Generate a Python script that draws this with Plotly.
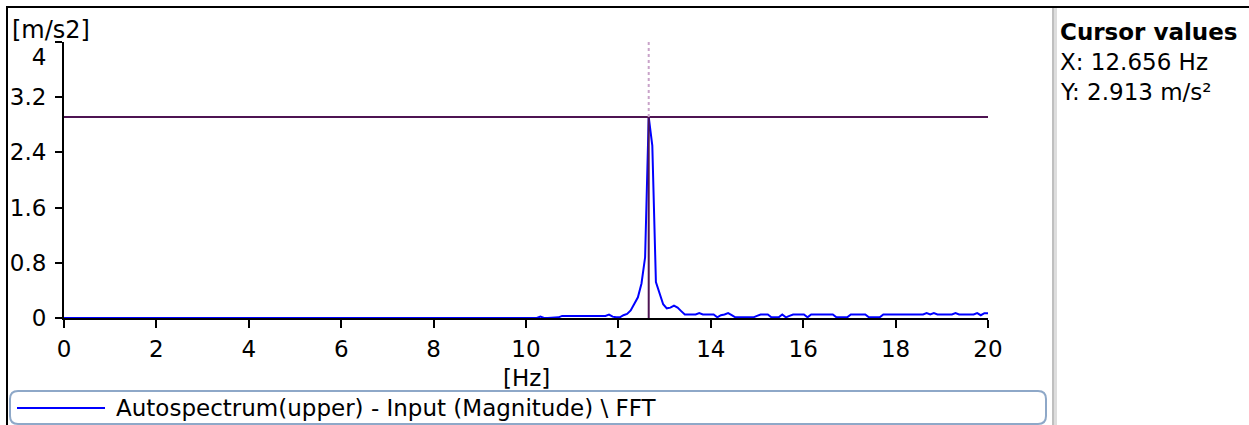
import plotly.graph_objects as go

# ---------------- data ----------------
freq_hz = [
    0.0,
    10.156, 10.234, 10.312, 10.391, 10.469, 10.547, 10.625, 10.703, 10.781, 10.859,
    10.938, 11.016, 11.094, 11.172, 11.25, 11.328, 11.406, 11.484, 11.562, 11.641,
    11.719, 11.797, 11.875, 11.953, 12.031, 12.109, 12.188, 12.266, 12.344, 12.422,
    12.5, 12.578, 12.656, 12.734, 12.812, 12.891, 12.969, 13.047, 13.125, 13.203,
    13.281, 13.359, 13.438, 13.516, 13.594, 13.672, 13.75, 13.828, 13.906, 13.984,
    14.062, 14.141, 14.219, 14.297, 14.375, 14.453, 14.531, 14.609, 14.688, 14.766,
    14.844, 14.922, 15.0, 15.078, 15.156, 15.234, 15.312, 15.391, 15.469, 15.547,
    15.625, 15.703, 15.781, 15.859, 15.938, 16.016, 16.094, 16.172, 16.25, 16.328,
    16.406, 16.484, 16.562, 16.641, 16.719, 16.797, 16.875, 16.953, 17.031, 17.109,
    17.188, 17.266, 17.344, 17.422, 17.5, 17.578, 17.656, 17.734, 17.812, 17.891,
    17.969, 18.047, 18.125, 18.203, 18.281, 18.359, 18.438, 18.516, 18.594, 18.672,
    18.75, 18.828, 18.906, 18.984, 19.062, 19.141, 19.219, 19.297, 19.375, 19.453,
    19.531, 19.609, 19.688, 19.766, 19.844, 19.922, 20.0,
]
magnitude = [
    0.0,
    0.0, 0.0, 0.02, 0.0, 0.0, 0.0, 0.0, 0.01, 0.03, 0.03,
    0.03, 0.03, 0.02, 0.03, 0.03, 0.03, 0.03, 0.03, 0.03, 0.03,
    0.03, 0.05, 0.02, 0.01, 0.01, 0.04, 0.06, 0.11, 0.2, 0.3,
    0.5, 0.88, 2.913, 2.5, 0.52, 0.36, 0.2, 0.14, 0.15, 0.18,
    0.15, 0.1, 0.05, 0.05, 0.05, 0.05, 0.07, 0.05, 0.05, 0.05,
    0.05, 0.01, 0.04, 0.05, 0.07, 0.04, 0.01, 0.01, 0.01, 0.01,
    0.01, 0.01, 0.03, 0.05, 0.05, 0.05, 0.01, 0.01, 0.01, 0.05,
    0.01, 0.03, 0.05, 0.05, 0.05, 0.05, 0.01, 0.05, 0.05, 0.05,
    0.05, 0.05, 0.05, 0.05, 0.01, 0.01, 0.01, 0.01, 0.05, 0.05,
    0.05, 0.05, 0.05, 0.01, 0.01, 0.01, 0.01, 0.05, 0.05, 0.05,
    0.05, 0.05, 0.05, 0.05, 0.05, 0.05, 0.05, 0.05, 0.05, 0.07,
    0.05, 0.07, 0.05, 0.05, 0.05, 0.05, 0.05, 0.07, 0.05, 0.05,
    0.05, 0.05, 0.05, 0.07, 0.04, 0.07, 0.07,
]
cursor_x = 12.656
cursor_y = 2.913
x_tick_vals = [0, 2, 4, 6, 8, 10, 12, 14, 16, 18, 20]
x_tick_text = ["0", "2", "4", "6", "8", "10", "12", "14", "16", "18", "20"]
y_tick_vals = [0, 0.8, 1.6, 2.4, 3.2, 4]
y_tick_text = ["0", "0.8", "1.6", "2.4", "3.2", "<br>4"]
x_range = [0, 20]
y_range = [0, 4]
series_name = "Autospectrum(upper) - Input (Magnitude) \\ FFT"

# ---------------- layout geometry (pixels) ----------------
W, H = 1249, 425
PL, PR, PT, PB = 64, 988, 42, 318
FONT = "DejaVu Sans"
TXT = 23
TICK = 23
CURSOR_COL = "#4e1452"


def px(x):
    return (x - PL) / (PR - PL)


def py(y):
    return (PB - y) / (PB - PT)


fig = go.Figure()
fig.add_trace(go.Scatter(x=freq_hz, y=magnitude, mode="lines",
                         line=dict(color="#0000ff", width=2),
                         name=series_name, showlegend=False, hoverinfo="skip"))
# cursor: horizontal line
fig.add_trace(go.Scatter(x=x_range, y=[cursor_y, cursor_y], mode="lines",
                         line=dict(color=CURSOR_COL, width=2),
                         showlegend=False, hoverinfo="skip"))
# cursor: vertical solid part
fig.add_trace(go.Scatter(x=[cursor_x, cursor_x], y=[0, cursor_y], mode="lines",
                         line=dict(color=CURSOR_COL, width=2),
                         showlegend=False, hoverinfo="skip"))
# cursor: vertical dotted part
fig.add_trace(go.Scatter(x=[cursor_x, cursor_x], y=[cursor_y, y_range[1]], mode="lines",
                         line=dict(color="#c9a3c9", width=2, dash="dot"),
                         showlegend=False, hoverinfo="skip"))

shapes = [
    # outer frame
    dict(type="line", xref="paper", yref="paper", x0=px(6), x1=px(W), y0=py(7), y1=py(7),
         line=dict(color="black", width=2)),
    dict(type="line", xref="paper", yref="paper", x0=px(7), x1=px(7), y0=py(6), y1=py(H),
         line=dict(color="black", width=2)),
    # divider to cursor panel
    dict(type="rect", xref="paper", yref="paper", x0=px(1052), x1=px(1057), y0=py(8), y1=py(H),
         fillcolor="#dddddd", line=dict(width=0)),
    dict(type="line", xref="paper", yref="paper", x0=px(1053), x1=px(1053), y0=py(8), y1=py(H),
         line=dict(color="#b4b4b4", width=1.5)),
]
# legend box (rounded)
lx0, lx1, ly0, ly1, r = 10, 1046, 391, 424, 8
path = (f"M {px(lx0 + r)},{py(ly0)} L {px(lx1 - r)},{py(ly0)} "
        f"Q {px(lx1)},{py(ly0)} {px(lx1)},{py(ly0 + r)} L {px(lx1)},{py(ly1 - r)} "
        f"Q {px(lx1)},{py(ly1)} {px(lx1 - r)},{py(ly1)} L {px(lx0 + r)},{py(ly1)} "
        f"Q {px(lx0)},{py(ly1)} {px(lx0)},{py(ly1 - r)} L {px(lx0)},{py(ly0 + r)} "
        f"Q {px(lx0)},{py(ly0)} {px(lx0 + r)},{py(ly0)} Z")
shapes.append(dict(type="path", xref="paper", yref="paper", path=path,
                   line=dict(color="#8ea8c8", width=2)))
shapes.append(dict(type="line", xref="paper", yref="paper", x0=px(17), x1=px(105),
                   y0=py(408), y1=py(408), line=dict(color="#0000ff", width=2)))

annotations = [
    dict(text="[m/s2]", x=px(10), y=py(30), xref="paper", yref="paper",
         xanchor="left", yanchor="middle", showarrow=False, font=dict(size=TXT + 1)),
    dict(text="[Hz]", x=px(526), y=py(378), xref="paper", yref="paper",
         xanchor="center", yanchor="middle", showarrow=False, font=dict(size=TXT)),
    dict(text="<b>Cursor values</b>", x=px(1058), y=py(32), xref="paper", yref="paper",
         xanchor="left", yanchor="middle", showarrow=False, font=dict(size=TXT)),
    dict(text=f"X: {cursor_x:.3f} Hz", x=px(1058), y=py(62), xref="paper", yref="paper",
         xanchor="left", yanchor="middle", showarrow=False, font=dict(size=TXT)),
    dict(text=f"Y: {cursor_y:.3f} m/s²", x=px(1058), y=py(92), xref="paper", yref="paper",
         xanchor="left", yanchor="middle", showarrow=False, font=dict(size=TXT)),
    dict(text=series_name, x=px(114), y=py(408), xref="paper", yref="paper",
         xanchor="left", yanchor="middle", showarrow=False, font=dict(size=TXT)),
]

fig.update_layout(
    width=W, height=H,
    margin=dict(l=PL, r=W - PR, t=PT, b=H - PB, pad=0, autoexpand=False),
    paper_bgcolor="white", plot_bgcolor="white",
    font=dict(family=FONT, size=TXT, color="black"),
    showlegend=False,
    shapes=shapes, annotations=annotations,
    xaxis=dict(range=x_range, tickmode="array", tickvals=x_tick_vals, ticktext=x_tick_text,
               tickfont=dict(family=FONT, size=TICK), ticklabelstandoff=1, automargin=False,
               showgrid=False, zeroline=False, showline=True, linecolor="black", linewidth=2,
               ticks="outside", ticklen=8, tickwidth=2, tickcolor="black"),
    yaxis=dict(range=y_range, tickmode="array", tickvals=y_tick_vals, ticktext=y_tick_text,
               tickfont=dict(family=FONT, size=TICK), ticklabelstandoff=4, automargin=False,
               showgrid=False, zeroline=False, showline=True, linecolor="black", linewidth=2,
               ticks="outside", ticklen=7, tickwidth=2, tickcolor="black"),
)

fig.write_html("out.html")
